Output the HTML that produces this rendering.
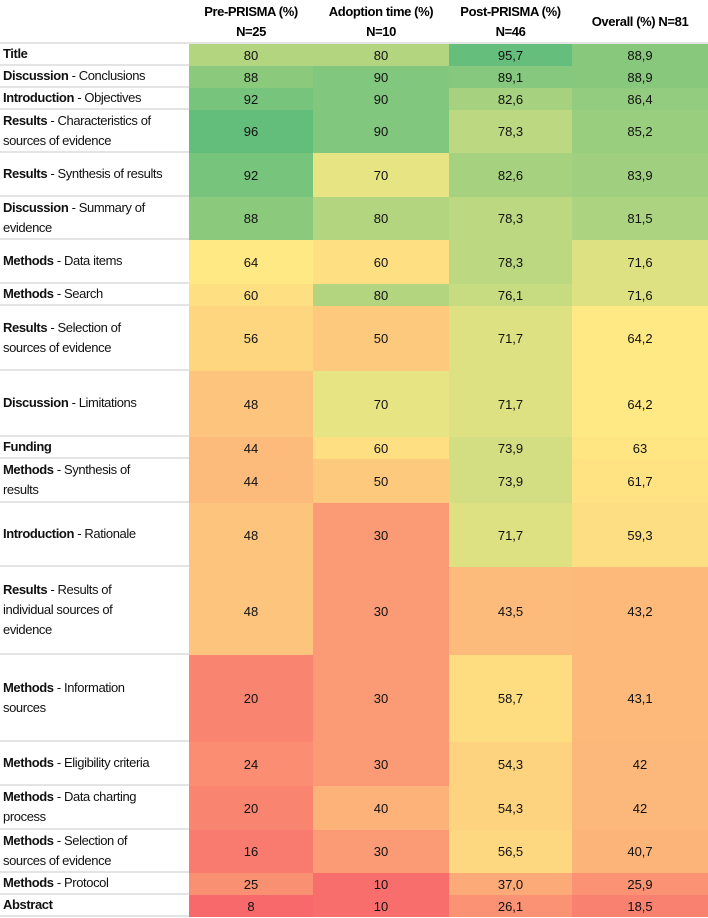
<!DOCTYPE html>
<html><head><meta charset="utf-8"><style>
body{margin:0;width:708px;height:918px;background:#fff;font-family:"Liberation Sans",sans-serif;overflow:hidden}
#t{position:relative;width:708px;height:918px}
.c{position:absolute;display:flex;align-items:center;justify-content:center;font-size:13px;color:#111;box-sizing:border-box}
.l{position:absolute;display:flex;align-items:center;font-size:13px;color:#111;padding-left:3px;box-sizing:border-box;line-height:20px;letter-spacing:-0.4px;white-space:nowrap}
.h{position:absolute;display:flex;align-items:center;justify-content:center;text-align:center;font-weight:bold;font-size:13px;line-height:20px;letter-spacing:-0.4px}
</style></head><body>
<div id="t"></div>
<script>
const categories=[["Title",""],["Discussion","Conclusions"],["Introduction","Objectives"],["Results","Characteristics of\nsources of evidence"],["Results","Synthesis of results"],["Discussion","Summary of\nevidence"],["Methods","Data items"],["Methods","Search"],["Results","Selection of\nsources of evidence"],["Discussion","Limitations"],["Funding",""],["Methods","Synthesis of\nresults"],["Introduction","Rationale"],["Results","Results of\nindividual sources of\nevidence"],["Methods","Information\nsources"],["Methods","Eligibility criteria"],["Methods","Data charting\nprocess"],["Methods","Selection of\nsources of evidence"],["Methods","Protocol"],["Abstract",""]];
const headers=["Pre-PRISMA (%)<br>N=25","Adoption time (%)<br>N=10","Post-PRISMA (%)<br>N=46","Overall (%) N=81"];
const prePrisma=[80,88,92,96,92,88,64,60,56,48,44,44,48,48,20,24,20,16,25,8];
const adoption=[80,90,90,90,70,80,60,80,50,70,60,50,30,30,30,30,40,30,10,10];
const postPrisma=[95.7,89.1,82.6,78.3,82.6,78.3,78.3,76.1,71.7,71.7,73.9,73.9,71.7,43.5,58.7,54.3,54.3,56.5,37.0,26.1];
const overall=[88.9,88.9,86.4,85.2,83.9,81.5,71.6,71.6,64.2,64.2,63,61.7,59.3,43.2,43.1,42,42,40.7,25.9,18.5];
const labels=[["80","80","95,7","88,9"],["88","90","89,1","88,9"],["92","90","82,6","86,4"],["96","90","78,3","85,2"],["92","70","82,6","83,9"],["88","80","78,3","81,5"],["64","60","78,3","71,6"],["60","80","76,1","71,6"],["56","50","71,7","64,2"],["48","70","71,7","64,2"],["44","60","73,9","63"],["44","50","73,9","61,7"],["48","30","71,7","59,3"],["48","30","43,5","43,2"],["20","30","58,7","43,1"],["24","30","54,3","42"],["20","40","54,3","42"],["16","30","56,5","40,7"],["25","10","37,0","25,9"],["8","10","26,1","18,5"]];
const rowEdges=[44,66,88,110,153,197,240,284,306,371,437,459,503,567,655,742,786,830,873,895,917];
const colEdges=[0,189,313,449,572,708];
const series=[prePrisma,adoption,postPrisma,overall];
function mix(a,b,t){return a.map((v,i)=>Math.round(v+(b[i]-v)*t));}
function color(v){const R=[248,105,107],Y=[255,235,132],G=[99,190,123];const mn=8,md=65,mx=96;
 if(v<=md)return 'rgb('+mix(R,Y,Math.max(0,(v-mn)/(md-mn))).join(',')+')';
 return 'rgb('+mix(Y,G,Math.min(1,(v-md)/(mx-md))).join(',')+')';}
const T=document.getElementById('t');
headers.forEach((h,j)=>{const d=document.createElement('div');d.className='h';


d.style.left=colEdges[j+1]+'px';d.style.top='0px';d.style.width=(colEdges[j+2]-colEdges[j+1])+'px';d.style.height='44px';d.innerHTML=h;T.appendChild(d);});
categories.forEach((c,i)=>{const y=rowEdges[i],h=rowEdges[i+1]-y;
 const l=document.createElement('div');l.className='l';
 
 
 l.style.left='0px';l.style.top=y+'px';l.style.width='189px';l.style.height=(h-2)+'px';
 l.innerHTML='<span><b>'+c[0]+'</b>'+(c[1]?' - '+c[1].replace(/\n/g,'<br>'):'')+'</span>';T.appendChild(l);
 const sep=document.createElement('div');sep.style.cssText='position:absolute;left:0;width:189px;height:2px;background:#e4e4e4;top:'+(rowEdges[i+1]-2)+'px';
 
 
 T.appendChild(sep);
 series.forEach((s,j)=>{const d=document.createElement('div');d.className='c';
  
  
  d.style.left=colEdges[j+1]+'px';d.style.top=y+'px';d.style.width=(colEdges[j+2]-colEdges[j+1])+'px';d.style.height=h+'px';
  d.style.background=color(s[i]);d.textContent=labels[i][j];T.appendChild(d);});
});
const hs=document.createElement('div');hs.style.cssText='position:absolute;left:0;top:42px;width:708px;height:2px;background:#e4e4e4';


T.appendChild(hs);
</script>
</body></html>
